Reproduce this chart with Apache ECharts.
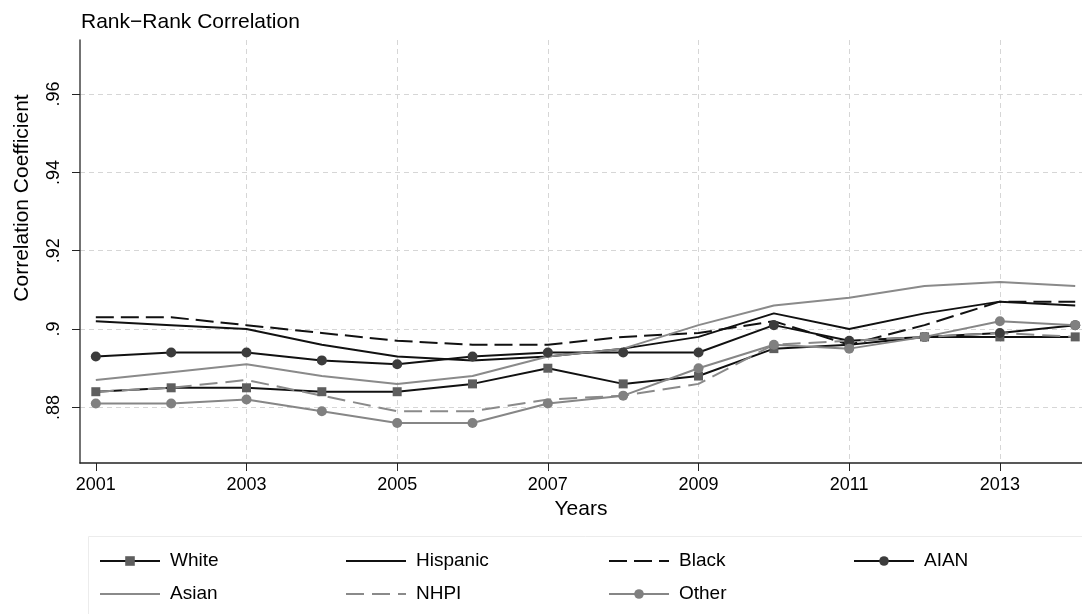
<!DOCTYPE html>
<html>
<head>
<meta charset="utf-8">
<script src="https://cdn.jsdelivr.net/npm/echarts@6/dist/echarts.min.js"></script>
<style>
  html, body { margin: 0; padding: 0; background: #fff; }
  #chart { width: 1082px; height: 614px; }
</style>
</head>
<body>
<div id="chart"></div>
<script>
// Years on the x axis
const years = [2001, 2002, 2003, 2004, 2005, 2006, 2007, 2008, 2009, 2010, 2011, 2012, 2013, 2014];

// Rank-rank correlation coefficient by group and year
const white    = [0.884, 0.885, 0.885, 0.884, 0.884, 0.886, 0.890, 0.886, 0.888, 0.895, 0.896, 0.898, 0.898, 0.898];
const hispanic = [0.902, 0.901, 0.900, 0.896, 0.893, 0.892, 0.893, 0.895, 0.898, 0.904, 0.900, 0.904, 0.907, 0.906];
const black    = [0.903, 0.903, 0.901, 0.899, 0.897, 0.896, 0.896, 0.898, 0.899, 0.902, 0.896, 0.901, 0.907, 0.907];
const aian     = [0.893, 0.894, 0.894, 0.892, 0.891, 0.893, 0.894, 0.894, 0.894, 0.901, 0.897, 0.898, 0.899, 0.901];
const asian    = [0.887, 0.889, 0.891, 0.888, 0.886, 0.888, 0.893, 0.895, 0.901, 0.906, 0.908, 0.911, 0.912, 0.911];
const nhpi     = [0.884, 0.885, 0.887, 0.883, 0.879, 0.879, 0.882, 0.883, 0.886, 0.896, 0.897, 0.898, 0.899, 0.898];
const other    = [0.881, 0.881, 0.882, 0.879, 0.876, 0.876, 0.881, 0.883, 0.890, 0.896, 0.895, 0.898, 0.902, 0.901];

// Axis ticks
const xTickValues = [2001, 2003, 2005, 2007, 2009, 2011, 2013];
const xGridValues = [2003, 2005, 2007, 2009, 2011, 2013];
const yTickValues = [0.88, 0.90, 0.92, 0.94, 0.96];

const FONT = '"Liberation Sans", Arial, Helvetica, sans-serif';
const GRID_LINE = { show: true, lineStyle: { color: '#d6d6d6', type: [5, 4], width: 1 } };

function pairs(vals) {
  return years.map((y, i) => [y, vals[i]]);
}

function lineSeries(name, vals, lineColor, symbol, symbolColor, symbolSize, dash) {
  return {
    name: name,
    type: 'line',
    data: pairs(vals),
    symbol: symbol,
    symbolSize: symbolSize,
    showSymbol: symbol !== 'none',
    animation: false,
    lineStyle: { color: lineColor, width: 2, type: dash || 'solid' },
    itemStyle: { color: symbolColor || lineColor, borderWidth: 0 },
    emphasis: { disabled: true }
  };
}

const series = [
  lineSeries('White', white, '#111', 'rect', '#5e5e5e', 9),
  lineSeries('Hispanic', hispanic, '#111', 'none', '#111', 0),
  lineSeries('Black', black, '#111', 'none', '#111', 0, [18, 7]),
  lineSeries('AIAN', aian, '#111', 'circle', '#3c3c3c', 10),
  lineSeries('Asian', asian, '#8a8a8a', 'none', '#8a8a8a', 0),
  lineSeries('NHPI', nhpi, '#8a8a8a', 'none', '#8a8a8a', 0, [18, 8]),
  lineSeries('Other', other, '#868686', 'circle', '#808080', 10)
];

// Hidden x axis that only carries the vertical dashed gridlines
series.push({
  type: 'line', xAxisIndex: 1, data: [], silent: true
});

// Legend entries; line-only series get no marker in their key
const lineOnly = { itemStyle: { opacity: 0 } };
function key(name, plain) {
  return plain ? Object.assign({ name: name }, lineOnly) : { name: name };
}

const legendBase = {
  orient: 'vertical',
  top: 551,
  height: 64,
  padding: 0,
  itemWidth: 60,
  itemHeight: 12,
  itemGap: 13,
  selectedMode: false,
  textStyle: { fontSize: 19, lineHeight: 20, fontFamily: FONT, color: '#000', padding: [0, 0, 0, 5] }
};

const chart = echarts.init(document.getElementById('chart'), null, { renderer: 'canvas' });
chart.setOption({
  backgroundColor: '#fff',
  animation: false,
  title: {
    text: 'Rank\u2212Rank Correlation',
    left: 76,
    top: 7,
    textStyle: { fontSize: 21, fontWeight: 'normal', fontFamily: FONT, color: '#000' }
  },
  grid: { left: 80, right: 0, top: 40, bottom: 151, containLabel: false },
  xAxis: [{
    type: 'value',
    min: 2000.79,
    max: 2014.09,
    name: 'Years',
    nameLocation: 'middle',
    nameGap: 34,
    nameTextStyle: { fontSize: 21, fontFamily: FONT, color: '#000' },
    axisLine: { show: true, onZero: false, lineStyle: { color: '#222', width: 1.5 } },
    axisTick: { show: true, length: 8, customValues: xTickValues, lineStyle: { color: '#222', width: 1 } },
    axisLabel: { customValues: xTickValues, fontSize: 18, fontFamily: FONT, color: '#000', margin: 13,
                 formatter: v => String(Math.round(v)) },
    splitLine: { show: false }
  }, {
    type: 'value',
    min: 2000.79,
    max: 2014.09,
    position: 'bottom',
    axisLine: { show: false },
    axisTick: { show: false, customValues: xGridValues },
    axisLabel: { show: false, customValues: xGridValues },
    splitLine: GRID_LINE
  }],
  yAxis: {
    type: 'value',
    min: 0.8658,
    max: 0.9738,
    axisLine: { show: true, onZero: false, lineStyle: { color: '#444', width: 1.5 } },
    axisTick: { show: true, length: 8, customValues: yTickValues, lineStyle: { color: '#222', width: 1 } },
    axisLabel: { customValues: yTickValues, rotate: 90, fontSize: 18, fontFamily: FONT, color: '#000', margin: 17,
                 formatter: v => String(+v.toFixed(2)).replace(/^0/, '') },
    splitLine: GRID_LINE
  },
  legend: [
    Object.assign({}, legendBase, { left: 99, data: [key('White'), key('Asian', true)] }),
    Object.assign({}, legendBase, { left: 345, data: [key('Hispanic', true), key('NHPI', true)] }),
    Object.assign({}, legendBase, { left: 608, data: [key('Black', true), key('Other')] }),
    Object.assign({}, legendBase, { left: 853, data: [key('AIAN')] })
  ],
  graphic: [{
    type: 'rect',
    shape: { x: 88.5, y: 536.5, width: 1000, height: 80 },
    style: { fill: '#fff', stroke: '#ececec', lineWidth: 1 },
    z: -10, silent: true
  }, {
    type: 'text',
    x: 22, y: 198,
    rotation: Math.PI / 2,
    style: { text: 'Correlation Coefficient', fontSize: 21, fontFamily: FONT, fill: '#000',
             align: 'center', verticalAlign: 'middle' },
    silent: true
  }],
  series: series
});
</script>
</body>
</html>
